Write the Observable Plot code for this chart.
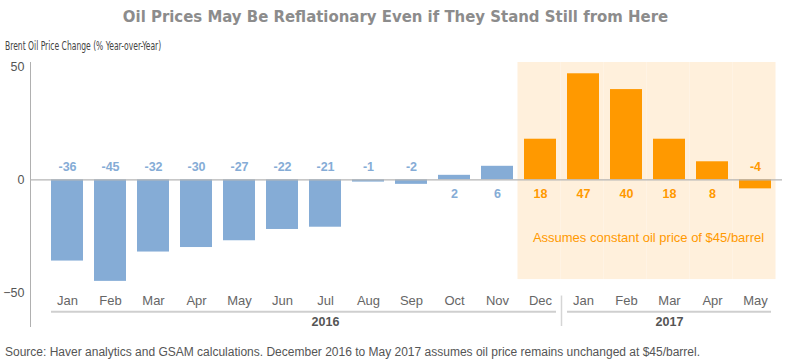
<!DOCTYPE html>
<html>
<head>
<meta charset="utf-8">
<script src="https://cdn.jsdelivr.net/npm/d3@7"></script>
<script src="https://cdn.jsdelivr.net/npm/@observablehq/plot@0.6"></script>
<style>
  body { margin: 0; background: #fff; width: 785px; height: 361px; overflow: hidden; }
  #title { height: 34px; line-height: 34px; text-align: center; padding-left: 6px; font-family: "Liberation Sans Narrow", "DejaVu Sans Condensed", sans-serif; font-weight: bold; font-size: 16.6px; color: #8c8c8c; }
  #subtitle { height: 24px; line-height: 24px; padding-left: 5px; font-family: "Liberation Sans Narrow", "DejaVu Sans Condensed", sans-serif; font-size: 13px; color: #444; }
  #subtitle span { display: inline-block; transform: scaleX(0.65); transform-origin: left center; white-space: nowrap; }
  #chart svg { display: block; }
  #caption { padding-top: 9px; padding-left: 5px; line-height: 17px; font-family: "Liberation Sans", Arial, sans-serif; font-size: 12px; color: #555; white-space: nowrap; }
</style>
</head>
<body>
<div id="title">Oil Prices May Be Reflationary Even if They Stand Still from Here</div>
<div id="subtitle"><span>Brent Oil Price Change (% Year-over-Year)</span></div>
<div id="chart"></div>
<div id="caption">Source: Haver analytics and GSAM calculations. December 2016 to May 2017 assumes oil price remains unchanged at $45/barrel.</div>
<script>
const months = ["Jan","Feb","Mar","Apr","May","Jun","Jul","Aug","Sep","Oct","Nov","Dec","Jan","Feb","Mar","Apr","May"];
const years  = [2016,2016,2016,2016,2016,2016,2016,2016,2016,2016,2016,2016,2017,2017,2017,2017,2017];
const values = [-36,-45,-32,-30,-27,-22,-21,-1,-2,2,6,18,47,40,18,8,-4];
const assumed = [false,false,false,false,false,false,false,false,false,false,false,true,true,true,true,true,true];
const yTicks = [-50, 0, 50];
const yearLabels = ["2016", "2017"];
const note = "Assumes constant oil price of $45/barrel";

const data = months.map((m, i) => ({key: `${m} ${years[i]}`, month: m, year: years[i], value: values[i], assumed: assumed[i]}));
const keys = data.map(d => d.key);
const shaded = data.filter(d => d.assumed);
const yearSpans = yearLabels.map(y => {
  const ks = data.filter(d => String(d.year) === y).map(d => d.key);
  return {year: y, first: ks[0], last: ks[ks.length - 1]};
});

const BLUE = "#85acd6", ORANGE = "#ff9900", SHADE = "#fff0dc";
const yMonth = -53.5, yYearRule = -58.5, yYearText = -63;

const chart = Plot.plot({
  width: 785,
  height: 277,
  marginTop: 4,
  marginBottom: 9,
  marginLeft: 30,
  marginRight: 3,
  style: {fontFamily: "'Liberation Sans', Arial, sans-serif", background: "white"},
  x: {domain: keys, paddingInner: 0.264, paddingOuter: 0.1935, align: 0.647, axis: null},
  y: {domain: [-65, 52], axis: null},
  marks: [
    Plot.barY(shaded, {x: "key", y1: 52, y2: -44.2, fill: SHADE, insetLeft: -6.5, insetRight: -4.5}),
    Plot.frame({anchor: "left", stroke: "#b0b0b0"}),
    Plot.axisY({ticks: yTicks, tickSize: 0, tickPadding: 6, fontSize: 12.5, color: "#555", label: null}),
    Plot.barY(data, {x: "key", y: "value", fill: d => d.assumed ? ORANGE : BLUE}),
    Plot.ruleY([0], {stroke: "#b5b5b5", strokeWidth: 1.3}),
    Plot.text(data.filter(d => d.value < 0), {x: "key", y: 0, dy: -12.5, text: d => String(d.value), fill: d => d.assumed ? ORANGE : BLUE, fontWeight: "bold", fontSize: 12.5}),
    Plot.text(data.filter(d => d.value >= 0), {x: "key", y: 0, dy: 14, text: d => String(d.value), fill: d => d.assumed ? ORANGE : BLUE, fontWeight: "bold", fontSize: 12.5}),
    Plot.text([note], {x: () => "Feb 2017", y: -25.5, dx: 22, text: d => d, fill: ORANGE, fontSize: 13}),
    Plot.text(data, {x: "key", y: yMonth, text: "month", fill: "#666", fontSize: 13}),
    Plot.ruleY(yearSpans, {x1: "first", x2: "last", y: yYearRule, stroke: "#cfcfcf", strokeWidth: 2}),
    Plot.ruleX(["Jan 2017"], {x: d => d, y1: -51.5, y2: -65, dx: -22, stroke: "#d5d5d5", strokeWidth: 1.5}),
    Plot.text(yearSpans, {x: d => keys[Math.round((keys.indexOf(d.first) + keys.indexOf(d.last)) / 2)], y: yYearText, text: "year", fill: "#555", fontWeight: "bold", fontSize: 12.5})
  ]
});
document.getElementById("chart").append(chart);
</script>
</body>
</html>
